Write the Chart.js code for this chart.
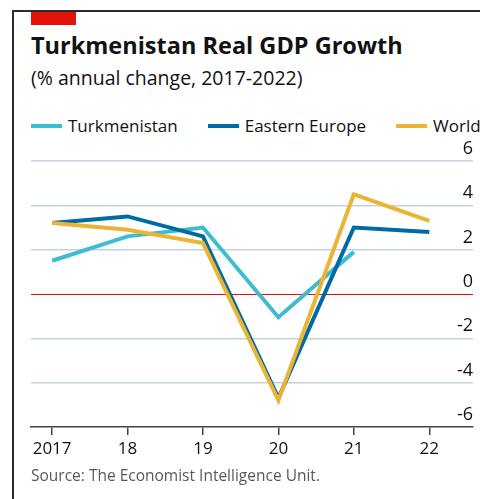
<!DOCTYPE html>
<html>
<head>
<meta charset="utf-8">
<script src="https://cdn.jsdelivr.net/npm/chart.js@4.4.0/dist/chart.umd.min.js"></script>
<style>
html,body{margin:0;padding:0;width:480px;height:499px;overflow:hidden;background:#fff;font-family:"Open Sans",sans-serif;color:#121212;}
#frameTop{position:absolute;left:12px;top:10px;width:468px;height:2px;background:#2b2b2b}
#frameLeft{position:absolute;left:12px;top:10px;width:2px;height:489px;background:#2b2b2b}
#tag{position:absolute;left:31px;top:12px;width:45px;height:13px;background:#e3120b}
#title{position:absolute;left:31px;top:34px;font-weight:700;font-size:23.5px;line-height:1;white-space:nowrap}
#subtitle{position:absolute;left:31px;top:68px;font-size:19.5px;line-height:1;white-space:nowrap}
#legend{position:absolute;left:31px;top:117px;display:flex;align-items:center;white-space:nowrap;font-size:17px;line-height:1}
.item{display:flex;align-items:center;margin-right:30px}
.sw{width:31px;height:4px;margin-right:6px}
#wrap{position:absolute;left:0;top:130px;width:480px;height:337px}
#source{position:absolute;left:31px;top:468px;font-size:15.5px;line-height:1;color:#595959;white-space:nowrap}
</style>
</head>
<body>
<div id="frameTop"></div>
<div id="frameLeft"></div>
<div id="tag"></div>
<div id="title">Turkmenistan Real GDP Growth</div>
<div id="subtitle">(% annual change, 2017-2022)</div>
<div id="legend"></div>
<div id="wrap"><canvas id="c" width="480" height="337"></canvas></div>
<div id="source">Source: The Economist Intelligence Unit.</div>
<script>
const years = [2017, 2018, 2019, 2020, 2021, 2022];
const xTickLabels = ['2017', '18', '19', '20', '21', '22'];
const turkmenistan = [1.5, 2.6, 3.0, -1.05, 1.9, null];
const easternEurope = [3.2, 3.5, 2.6, -4.7, 3.0, 2.8];
const world = [3.2, 2.9, 2.3, -4.8, 4.5, 3.3];
const yTicks = [-6, -4, -2, 0, 2, 4, 6];
const seriesNames = ['Turkmenistan', 'Eastern Europe', 'World'];
const seriesColors = ['#3ebcd2', '#006ba2', '#ebb434'];
const seriesValues = [turkmenistan, easternEurope, world];

// HTML legend built from series names/colours
const legendEl = document.getElementById('legend');
seriesNames.forEach((name, i) => {
  const it = document.createElement('div');
  it.className = 'item';
  const sw = document.createElement('div');
  sw.className = 'sw';
  sw.style.background = seriesColors[i];
  const tx = document.createElement('span');
  tx.textContent = name;
  it.appendChild(sw); it.appendChild(tx);
  legendEl.appendChild(it);
});

const drawOrder = [2, 1, 0];
const datasets = seriesNames.map((name, i) => ({
  label: name,
  data: years.map((yr, j) => ({x: yr, y: seriesValues[i][j]})),
  borderColor: seriesColors[i],
  backgroundColor: seriesColors[i],
  borderWidth: 4,
  pointRadius: 0,
  pointHoverRadius: 0,
  tension: 0,
  fill: false,
  spanGaps: false,
  borderJoinStyle: 'miter',
  order: drawOrder[i]
}));

new Chart(document.getElementById('c'), {
  type: 'line',
  data: { datasets },
  options: {
    responsive: false,
    animation: false,
    devicePixelRatio: 1,
    layout: { padding: { top: 31, left: 31, right: 7, bottom: 0 } },
    plugins: { legend: { display: false }, tooltip: { enabled: false } },
    scales: {
      x: {
        type: 'linear',
        min: 2016.72,
        max: 2022.58,
        afterBuildTicks: (axis) => { axis.ticks = years.map(v => ({ value: v })); },
        afterFit: (axis) => { axis.height = 40; },
        grid: { drawOnChartArea: false, drawTicks: true, tickLength: 8, color: '#444', lineWidth: 1.5 },
        border: { display: true, color: '#444', width: 1.5 },
        ticks: {
          padding: 4,
          color: '#121212',
          font: { family: '"Open Sans", sans-serif', size: 17 },
          maxRotation: 0,
          autoSkip: false,
          callback: (v) => { const k = years.indexOf(v); return k >= 0 ? xTickLabels[k] : ''; }
        }
      },
      y: {
        position: 'right',
        min: -6,
        max: 6,
        afterBuildTicks: (axis) => { axis.ticks = yTicks.map(v => ({ value: v })); },
        afterFit: (axis) => { axis.width = 0; },
        grid: {
          drawTicks: false,
          lineWidth: (ctx) => (ctx.tick && ctx.tick.value === 0 ? 1 : 1.5),
          color: (ctx) => {
            if (!ctx.tick) return '#c7d1dc';
            if (ctx.tick.value === 0) return '#e3120b';
            if (ctx.tick.value === -6) return 'rgba(0,0,0,0)';
            return '#c7d1dc';
          }
        },
        border: { display: false },
        ticks: {
          mirror: true,
          padding: 0,
          labelOffset: -12,
          color: '#121212',
          font: { family: '"Open Sans", sans-serif', size: 18 },
          callback: (v) => String(v)
        }
      }
    }
  }
});
</script>
</body>
</html>
